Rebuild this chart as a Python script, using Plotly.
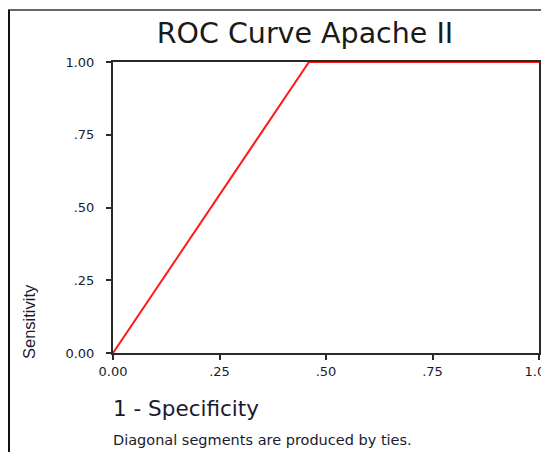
import plotly.graph_objects as go

# Data
fpr = [0.0, 0.46, 1.0]
tpr = [0.0, 1.0, 1.0]
tick_vals = [0.0, 0.25, 0.5, 0.75, 1.0]
tick_text = ["0.00", ".25", ".50", ".75", "1.00"]

# page body has an 8px margin: work in reference pixels, shift by OFF
OFF = 8
W, H = 549 - OFF, 452 - OFF
L, R, T, B = 113 - OFF, 10, 62 - OFF, 99
pw, ph = W - L - R, H - T - B

def px_x(x):
    return (x - OFF - L) / pw

def px_y(y):
    return (H - B - (y - OFF)) / ph

FONT = "DejaVu Sans, Arial"
TXT = "#1a1a2e"

fig = go.Figure()
fig.add_trace(go.Scatter(x=fpr, y=tpr, mode="lines",
                         line=dict(color="#ff1a1a", width=2), showlegend=False,
                         cliponaxis=False))

axis_common = dict(range=[0, 1], tickvals=tick_vals, ticktext=tick_text,
                   showgrid=False, zeroline=False, showline=True, linecolor="#2a2a2a",
                   linewidth=2, mirror=True, ticks="outside", ticklen=5, tickwidth=2,
                   tickcolor="#2a2a2a", ticklabeloverflow="allow", automargin=False,
                   tickfont=dict(family=FONT, size=13, color=TXT))

fig.update_xaxes(**axis_common)
fig.update_yaxes(**axis_common, ticklabelstandoff=9)

fig.update_layout(
    width=W, height=H,
    margin=dict(l=L, r=R, t=T, b=B),
    paper_bgcolor="white", plot_bgcolor="white",
    title=dict(text="ROC Curve Apache II", xref="paper", x=px_x(305), xanchor="center",
               y=1 - (33 - OFF) / H, yanchor="middle", automargin=False,
               font=dict(family=FONT, size=28.5, color="#1a1a1a")),
    shapes=[
        dict(type="line", xref="paper", yref="paper", x0=px_x(8), x1=px_x(560),
             y0=px_y(10), y1=px_y(10), line=dict(color="#666", width=2)),
        dict(type="line", xref="paper", yref="paper", x0=px_x(9), x1=px_x(9),
             y0=px_y(10), y1=px_y(460), line=dict(color="#111", width=2)),
    ],
    annotations=[
        dict(text="Sensitivity", xref="paper", yref="paper", x=px_x(29), y=px_y(322),
             textangle=-90, showarrow=False, xanchor="center", yanchor="middle",
             font=dict(family="Liberation Sans Narrow, Arial Narrow, Arial", size=16.5, color=TXT)),
        dict(text="1 - Specificity", xref="paper", yref="paper", x=px_x(111), y=px_y(408),
             showarrow=False, xanchor="left", yanchor="middle",
             font=dict(family=FONT, size=21.5, color=TXT)),
        dict(text="Diagonal segments are produced by ties.", xref="paper", yref="paper",
             x=px_x(111), y=px_y(440), showarrow=False, xanchor="left", yanchor="middle",
             font=dict(family=FONT, size=14.5, color=TXT)),
    ],
)

fig.write_html("out.html")
